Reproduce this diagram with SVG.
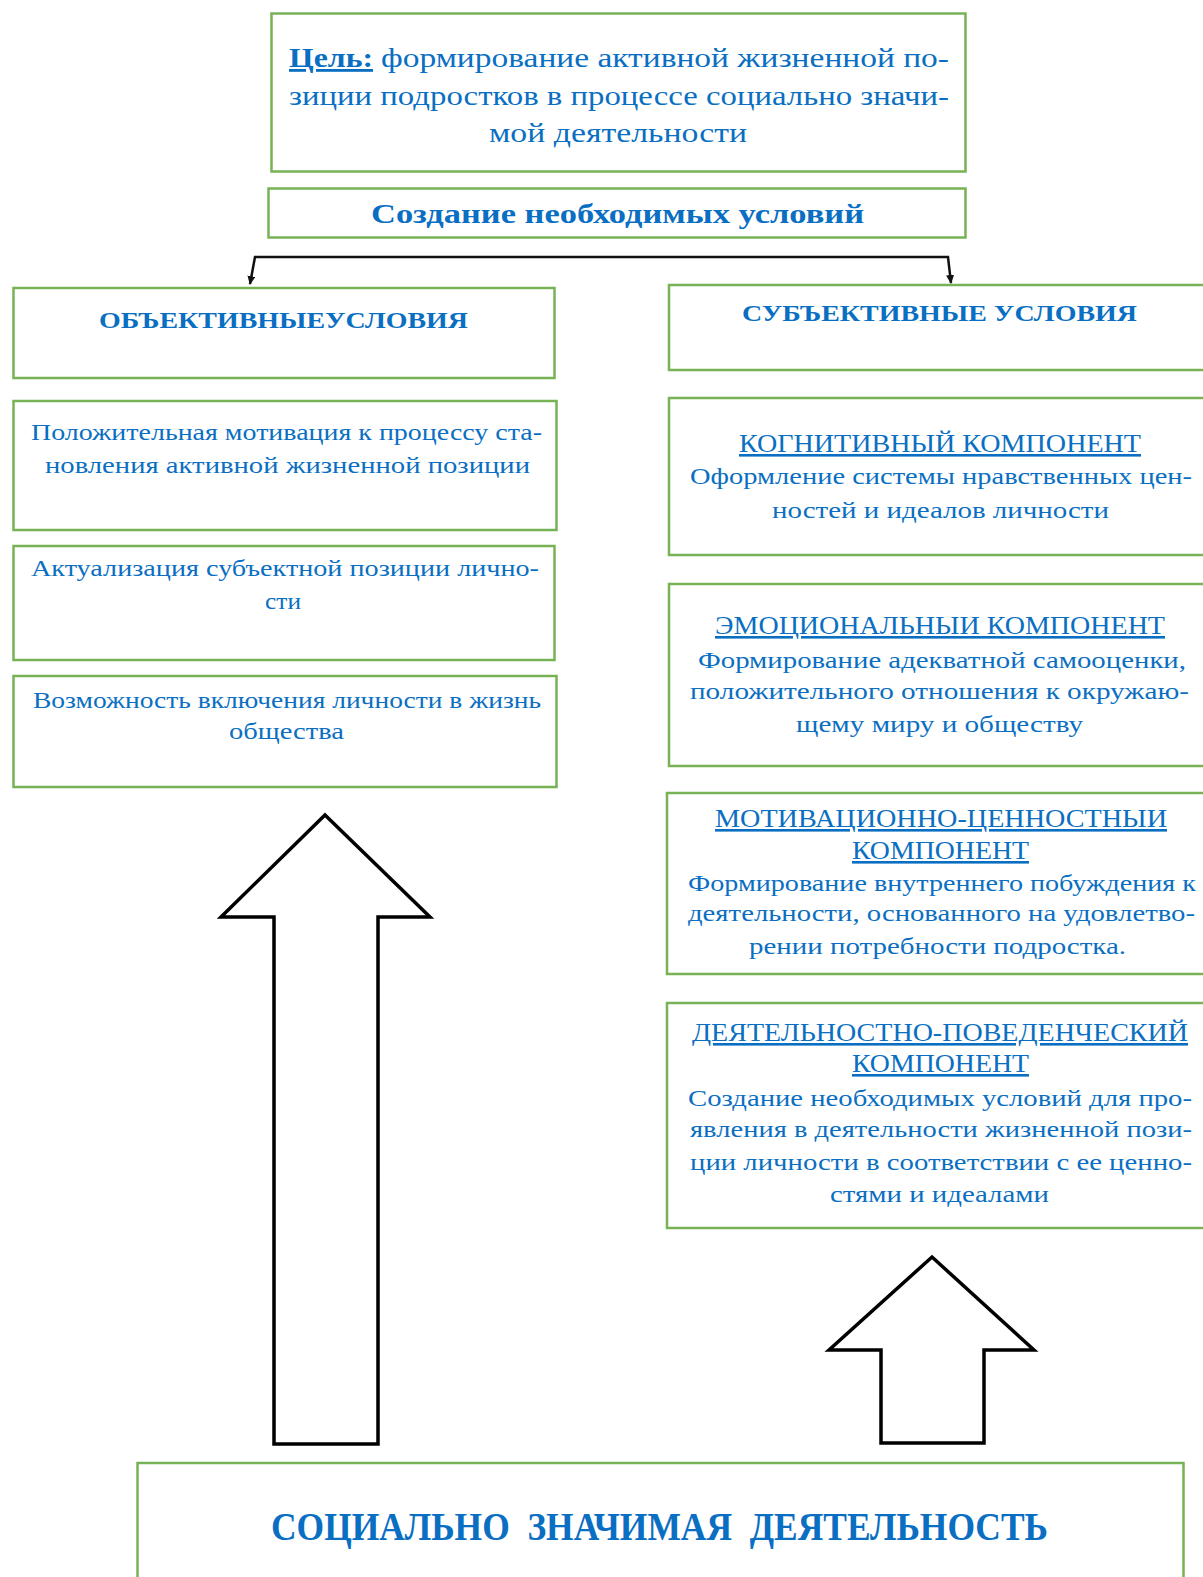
<svg xmlns="http://www.w3.org/2000/svg" width="1203" height="1577" viewBox="0 0 1203 1577">
<style>
.box{fill:#fff;stroke:#77b255;stroke-width:2.5}
.t{font-family:"Liberation Serif","Times New Roman",serif;fill:#0a6fc2;font-size:23px}
.b{font-weight:bold}
.u{text-decoration:underline}
.arrow{fill:#fff;stroke:#000;stroke-width:3.5;stroke-linejoin:miter}
.conn{fill:none;stroke:#111;stroke-width:2.5}
</style>
<defs>
<marker id="ah" markerWidth="9" markerHeight="8" refX="8" refY="4" orient="auto-start-reverse" markerUnits="userSpaceOnUse">
<path d="M0,0 L9,4 L0,8 Z" fill="#111"/>
</marker>
</defs>
<rect width="1203" height="1577" fill="#fff"/>

<g id="connectors">
<polyline class="conn" points="250,284 255,257 948,257 951,283" marker-start="url(#ah)" marker-end="url(#ah)"/>
</g>

<g id="goal">
<rect class="box" x="271.5" y="13.5" width="694" height="158"/>
<text class="t" y="67" style="font-size:28px"><tspan class="b u" x="289" textLength="84" lengthAdjust="spacingAndGlyphs">Цель:</tspan><tspan x="381" textLength="568" lengthAdjust="spacingAndGlyphs">формирование активной жизненной по-</tspan></text>
<text class="t" x="289" y="105" style="font-size:28px" textLength="660" lengthAdjust="spacingAndGlyphs">зиции подростков в процессе социально значи-</text>
<text class="t" x="489" y="142" style="font-size:28px" textLength="258" lengthAdjust="spacingAndGlyphs">мой деятельности</text>
</g>

<g id="conditions">
<rect class="box" x="268.5" y="188.5" width="697" height="49"/>
<text class="t b" x="371" y="223" style="font-size:28px" textLength="493" lengthAdjust="spacingAndGlyphs">Создание необходимых условий</text>
</g>

<g id="objective">
<rect class="box" x="13.5" y="288" width="541" height="90"/>
<text class="t b" x="99" y="328" style="font-size:24px" textLength="369" lengthAdjust="spacingAndGlyphs">ОБЪЕКТИВНЫЕУСЛОВИЯ</text>
</g>

<g id="subjective">
<rect class="box" x="669" y="285" width="545" height="85"/>
<text class="t b" x="742" y="321" style="font-size:24px" textLength="395" lengthAdjust="spacingAndGlyphs">СУБЪЕКТИВНЫЕ УСЛОВИЯ</text>
</g>

<g id="obj1">
<rect class="box" x="13.5" y="401" width="543" height="129"/>
<text class="t" x="31" y="440" textLength="511" lengthAdjust="spacingAndGlyphs">Положительная мотивация к процессу ста-</text>
<text class="t" x="45" y="473" textLength="485" lengthAdjust="spacingAndGlyphs">новления активной жизненной позиции</text>
</g>

<g id="obj2">
<rect class="box" x="13.5" y="546" width="541" height="114"/>
<text class="t" x="31" y="576" textLength="508" lengthAdjust="spacingAndGlyphs">Актуализация субъектной позиции лично-</text>
<text class="t" x="265" y="609" textLength="36" lengthAdjust="spacingAndGlyphs">сти</text>
</g>

<g id="obj3">
<rect class="box" x="13.5" y="676" width="543" height="111"/>
<text class="t" x="33" y="708" textLength="508" lengthAdjust="spacingAndGlyphs">Возможность включения личности в жизнь</text>
<text class="t" x="229" y="739" textLength="115" lengthAdjust="spacingAndGlyphs">общества</text>
</g>

<g id="cognitive">
<rect class="box" x="669" y="398" width="545" height="157"/>
<text class="t u" x="739" y="452" style="font-size:26px" textLength="402" lengthAdjust="spacingAndGlyphs">КОГНИТИВНЫЙ КОМПОНЕНТ</text>
<text class="t" x="690" y="484" textLength="502" lengthAdjust="spacingAndGlyphs">Оформление системы нравственных цен-</text>
<text class="t" x="772" y="518" textLength="337" lengthAdjust="spacingAndGlyphs">ностей и идеалов личности</text>
</g>

<g id="emotional">
<rect class="box" x="669" y="584" width="545" height="182"/>
<text class="t u" x="715" y="634" style="font-size:26px" textLength="450" lengthAdjust="spacingAndGlyphs">ЭМОЦИОНАЛЬНЫИ КОМПОНЕНТ</text>
<text class="t" x="698" y="668" textLength="488" lengthAdjust="spacingAndGlyphs">Формирование адекватной самооценки,</text>
<text class="t" x="690" y="699" textLength="499" lengthAdjust="spacingAndGlyphs">положительного отношения к окружаю-</text>
<text class="t" x="796" y="732" textLength="287" lengthAdjust="spacingAndGlyphs">щему миру и обществу</text>
</g>

<g id="motivational">
<rect class="box" x="667" y="793" width="547" height="181"/>
<text class="t u" x="715" y="827" style="font-size:26px" textLength="452" lengthAdjust="spacingAndGlyphs">МОТИВАЦИОННО-ЦЕННОСТНЫИ</text>
<text class="t u" x="852" y="859" style="font-size:26px" textLength="177" lengthAdjust="spacingAndGlyphs">КОМПОНЕНТ</text>
<text class="t" x="688" y="891" textLength="508" lengthAdjust="spacingAndGlyphs">Формирование внутреннего побуждения к</text>
<text class="t" x="688" y="921" textLength="507" lengthAdjust="spacingAndGlyphs">деятельности, основанного на удовлетво-</text>
<text class="t" x="749" y="954" textLength="377" lengthAdjust="spacingAndGlyphs">рении потребности подростка.</text>
</g>

<g id="behavioral">
<rect class="box" x="667" y="1003" width="547" height="225"/>
<text class="t u" x="692" y="1041" style="font-size:26px" textLength="496" lengthAdjust="spacingAndGlyphs">ДЕЯТЕЛЬНОСТНО-ПОВЕДЕНЧЕСКИЙ</text>
<text class="t u" x="852" y="1072" style="font-size:26px" textLength="177" lengthAdjust="spacingAndGlyphs">КОМПОНЕНТ</text>
<text class="t" x="688" y="1106" textLength="504" lengthAdjust="spacingAndGlyphs">Создание необходимых условий для про-</text>
<text class="t" x="690" y="1137" textLength="502" lengthAdjust="spacingAndGlyphs">явления в деятельности жизненной пози-</text>
<text class="t" x="690" y="1170" textLength="502" lengthAdjust="spacingAndGlyphs">ции личности в соответствии с ее ценно-</text>
<text class="t" x="830" y="1202" textLength="219" lengthAdjust="spacingAndGlyphs">стями и идеалами</text>
</g>

<g id="arrow-left">
<polygon class="arrow" points="325,815 430,917 378,917 378,1444 274,1444 274,917 221,917"/>
</g>
<g id="arrow-right">
<polygon class="arrow" points="932,1257 1034,1350 984,1350 984,1443 881,1443 881,1350 829,1350"/>
</g>

<g id="activity">
<rect class="box" x="137.5" y="1463" width="1046" height="130"/>
<text class="t b" x="271" y="1540" xml:space="preserve" style="font-size:41px;white-space:pre" textLength="777" lengthAdjust="spacingAndGlyphs">СОЦИАЛЬНО  ЗНАЧИМАЯ  ДЕЯТЕЛЬНОСТЬ</text>
</g>
</svg>
